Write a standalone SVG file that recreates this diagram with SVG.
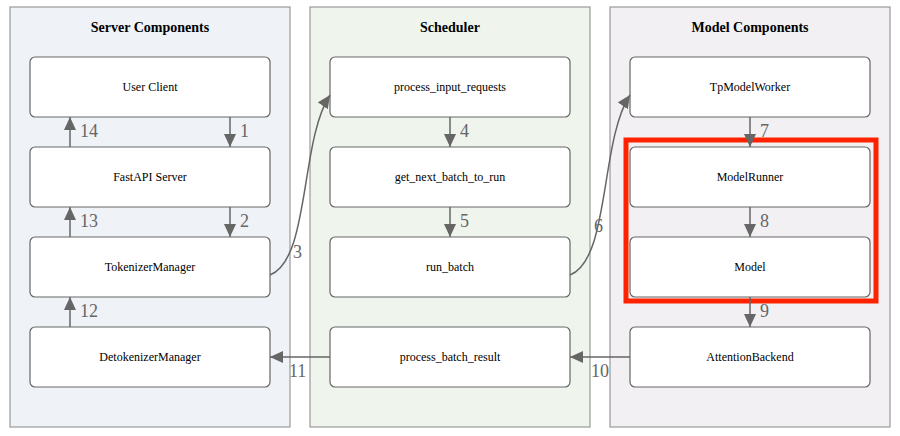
<svg xmlns="http://www.w3.org/2000/svg" width="900" height="436" viewBox="0 0 900 436" font-family="'Liberation Serif','Times New Roman','DejaVu Serif',serif">
<style>
.cl{stroke:#9a9a9a;stroke-width:1.2}
.n rect{fill:#fff;stroke:#666;stroke-width:1.2}
text{font-family:'Liberation Serif','Times New Roman','DejaVu Serif',serif;text-anchor:middle}
.nt{font-size:12px;fill:#000}
.ct{font-size:14px;font-weight:bold;fill:#000}
.e{stroke:#666;stroke-width:1.5;fill:none;marker-end:url(#a)}
.l{font-size:18px;fill:#666;text-anchor:start}
</style>
<defs><marker id="a" markerWidth="12" markerHeight="14" refX="13" refY="6" orient="auto" markerUnits="userSpaceOnUse"><path d="M0,0L13,6L0,12z" fill="#666"/></marker></defs>
<g id="cluster-server"><rect class="cl" x="10" y="7" width="280" height="420" fill="#eff2f6"/><text class="ct" x="150" y="32">Server Components</text></g>
<g id="cluster-scheduler"><rect class="cl" x="310" y="7" width="280" height="420" fill="#eff5ed"/><text class="ct" x="450" y="32">Scheduler</text></g>
<g id="cluster-model"><rect class="cl" x="610" y="7" width="280" height="420" fill="#f2f0f3"/><text class="ct" x="750" y="32">Model Components</text></g>
<g id="userclient" class="n"><rect x="30" y="57" width="240" height="60" rx="5"/><text class="nt" x="150" y="91">User Client</text></g>
<g id="fastapi" class="n"><rect x="30" y="147" width="240" height="60" rx="5"/><text class="nt" x="150" y="181">FastAPI Server</text></g>
<g id="tokenizer" class="n"><rect x="30" y="237" width="240" height="60" rx="5"/><text class="nt" x="150" y="271">TokenizerManager</text></g>
<g id="detokenizer" class="n"><rect x="30" y="327" width="240" height="60" rx="5"/><text class="nt" x="150" y="361">DetokenizerManager</text></g>
<g id="pir" class="n"><rect x="330" y="57" width="240" height="60" rx="5"/><text class="nt" x="450" y="91">process_input_requests</text></g>
<g id="gnb" class="n"><rect x="330" y="147" width="240" height="60" rx="5"/><text class="nt" x="450" y="181">get_next_batch_to_run</text></g>
<g id="runbatch" class="n"><rect x="330" y="237" width="240" height="60" rx="5"/><text class="nt" x="450" y="271">run_batch</text></g>
<g id="pbr" class="n"><rect x="330" y="327" width="240" height="60" rx="5"/><text class="nt" x="450" y="361">process_batch_result</text></g>
<g id="tpw" class="n"><rect x="630" y="57" width="240" height="60" rx="5"/><text class="nt" x="750" y="91">TpModelWorker</text></g>
<g id="mr" class="n"><rect x="630" y="147" width="240" height="60" rx="5"/><text class="nt" x="750" y="181">ModelRunner</text></g>
<g id="model" class="n"><rect x="630" y="237" width="240" height="60" rx="5"/><text class="nt" x="750" y="271">Model</text></g>
<g id="ab" class="n"><rect x="630" y="327" width="240" height="60" rx="5"/><text class="nt" x="750" y="361">AttentionBackend</text></g>
<g id="highlight"><rect x="626" y="140" width="250" height="161" fill="none" stroke="#ff2200" stroke-width="5"/></g>
<g id="connectors">
<path class="e" d="M230,117V147"/><text class="l" x="240" y="137">1</text>
<path class="e" d="M230,207V237"/><text class="l" x="240" y="227">2</text>
<path class="e" d="M270,275C310,260 300,140 330,95"/><text class="l" x="293" y="258">3</text>
<path class="e" d="M450,117V147"/><text class="l" x="460" y="137">4</text>
<path class="e" d="M450,207V237"/><text class="l" x="460" y="227">5</text>
<path class="e" d="M570,275C610,260 600,140 630,95"/><text class="l" x="594" y="232">6</text>
<path class="e" d="M750,117V147"/><text class="l" x="760" y="137">7</text>
<path class="e" d="M750,207V237"/><text class="l" x="760" y="227">8</text>
<path class="e" d="M750,297V327"/><text class="l" x="760" y="317">9</text>
<path class="e" d="M630,357H570"/><text class="l" x="591" y="377">10</text>
<path class="e" d="M330,357H270"/><text class="l" x="289" y="377">11</text>
<path class="e" d="M70,327V297"/><text class="l" x="80" y="317">12</text>
<path class="e" d="M70,237V207"/><text class="l" x="80" y="227">13</text>
<path class="e" d="M70,147V117"/><text class="l" x="80" y="137">14</text>
</g>
</svg>
